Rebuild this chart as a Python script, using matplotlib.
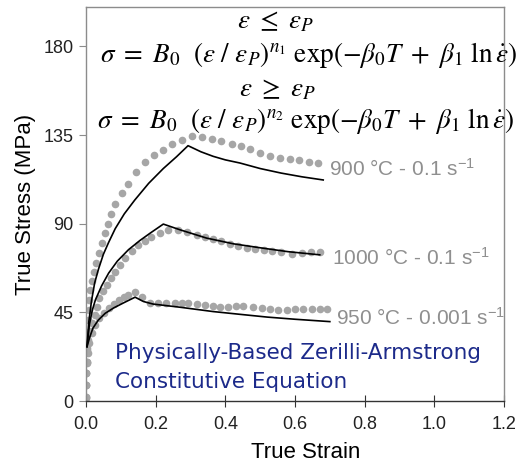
import matplotlib
matplotlib.use('Agg')
import matplotlib.pyplot as plt

plt.rcParams['font.family'] = ['Liberation Sans', 'DejaVu Sans']
plt.rcParams['mathtext.fontset'] = 'custom'
plt.rcParams['mathtext.rm'] = 'Liberation Sans'

# experimental points (gray dots)
exp_900_strain = [0.000, 0.000, 0.001, 0.002, 0.003, 0.005, 0.007, 0.008, 0.010, 0.012,
                  0.017, 0.022, 0.029, 0.036, 0.046, 0.054, 0.063, 0.073, 0.084, 0.102,
                  0.121, 0.145, 0.169, 0.195, 0.220, 0.246, 0.275, 0.303, 0.332, 0.361,
                  0.389, 0.418, 0.444, 0.471, 0.499, 0.528, 0.557, 0.585, 0.612, 0.641, 0.667]
exp_900_stress = [1.7, 8, 14, 20, 27, 34, 41, 46.3, 51.3, 56.4,
                  60.7, 65.7, 70, 75.1, 80.2, 85.2, 90, 95, 100.2, 105.6,
                  110.2, 116.1, 121.2, 125.1, 127.6, 130.5, 132.7, 134.4, 134.1, 133,
                  131.8, 130.7, 129.4, 128, 125.9, 124.2, 123.4, 122.9, 122.2, 121.5, 120.8]

exp_1000_strain = [0.000, 0.000, 0.001, 0.002, 0.004, 0.007, 0.011, 0.017, 0.025, 0.032,
                   0.038, 0.048, 0.060, 0.073, 0.084, 0.098, 0.113, 0.132, 0.150, 0.169,
                   0.188, 0.212, 0.236, 0.265, 0.289, 0.318, 0.341, 0.365, 0.389, 0.413,
                   0.437, 0.461, 0.485, 0.510, 0.535, 0.560, 0.590, 0.619, 0.645, 0.671]
exp_1000_stress = [2, 8, 14, 20, 26, 31, 35.5, 39.5, 43.7, 47.9,
                   52.2, 55.6, 59, 62.4, 65.7, 69.1, 72.5, 75.9, 79, 81,
                   83.5, 85.3, 86.9, 86.6, 85.6, 84.4, 83.2, 82.2, 81, 79.8,
                   78.8, 77.9, 77.1, 76.4, 76, 75.6, 74.8, 75.1, 75.4, 75.6]

exp_950_strain = [0.000, 0.000, 0.000, 0.003, 0.006, 0.010, 0.017, 0.025, 0.036, 0.051,
                  0.067, 0.079, 0.094, 0.108, 0.122, 0.141, 0.160, 0.184, 0.208, 0.231,
                  0.255, 0.275, 0.294, 0.318, 0.341, 0.365, 0.385, 0.408, 0.432, 0.451,
                  0.480, 0.504, 0.528, 0.552, 0.576, 0.600, 0.624, 0.648, 0.671, 0.693]
exp_950_stress = [1.9, 8.1, 14, 19.2, 24.2, 29.3, 34.4, 38.6, 42, 44.6,
                  47.1, 49.3, 51.3, 52.7, 53.9, 55.1, 53, 49.7, 49.7, 50,
                  49.7, 49.7, 49.7, 49.2, 48.5, 48, 47.6, 47.6, 48, 48.2,
                  47.6, 47.1, 46.6, 46.3, 46.3, 46.6, 46.8, 46.8, 46.6, 46.6]

# model predictions (black lines)
mod_900_strain = [0.003, 0.008, 0.016, 0.025, 0.036, 0.050, 0.065, 0.084, 0.110, 0.140,
                  0.180, 0.222, 0.260, 0.293, 0.330, 0.365, 0.400, 0.442, 0.500, 0.560,
                  0.620, 0.681]
mod_900_stress = [27.6, 40, 51, 60, 67, 74.5, 80.5, 87.5, 95, 102,
                  110.5, 118, 124, 129.6, 126.5, 124.2, 122.4, 120.8, 118, 115.7,
                  113.8, 112.2]

mod_1000_strain = [0.003, 0.010, 0.018, 0.027, 0.045, 0.065, 0.090, 0.122, 0.155, 0.185,
                   0.222, 0.270, 0.346, 0.423, 0.499, 0.580, 0.671]
mod_1000_stress = [27.6, 39, 46, 51.3, 58.5, 64.9, 71, 76.8, 81.5, 85.3,
                   89.8, 86.9, 82.7, 79.8, 77.8, 75.8, 74.2]

mod_950_strain = [0.003, 0.010, 0.020, 0.035, 0.055, 0.080, 0.110, 0.141, 0.165, 0.193,
                  0.270, 0.365, 0.442, 0.520, 0.600, 0.700]
mod_950_stress = [27.6, 32, 37, 41, 44.5, 47.3, 50, 52.7, 50.5, 49.2,
                  47.6, 45.4, 44, 42.6, 41.5, 40.3]

labels = ['900 °C - 0.1 s$\\mathregular{^{-1}}$',
          '1000 °C - 0.1 s$\\mathregular{^{-1}}$',
          '950 °C - 0.001 s$\\mathregular{^{-1}}$']
label_x = [0.697, 0.705, 0.719]
label_y = [114.4, 69.1, 38.6]

dot_color = '#a6a6a6'
frame_color = '#8c8c8c'

fig = plt.figure(figsize=(5.23, 4.72), dpi=100)
ax = fig.add_axes([0.1644, 0.1504, 0.7993, 0.8348])

for xs, ys in [(exp_900_strain, exp_900_stress), (exp_1000_strain, exp_1000_stress),
               (exp_950_strain, exp_950_stress)]:
    ax.plot(xs, ys, 'o', color=dot_color, ms=5.5, mec='none', zorder=2)

for xs, ys in [(mod_900_strain, mod_900_stress), (mod_1000_strain, mod_1000_stress),
               (mod_950_strain, mod_950_stress)]:
    ax.plot(xs, ys, '-', color='black', lw=1.2, zorder=3)

for lab, lx, ly in zip(labels, label_x, label_y):
    ax.text(lx, ly, lab, color='#8f8f8f', fontsize=15, ha='left', va='baseline',
            math_fontfamily='custom')

# constitutive equations
eq1 = (r'$\sigma\ =\ B_0\ \ (\varepsilon\ /\ \varepsilon_P)^{n_1}\ \mathrm{exp}'
       r'(-\beta_0 T\ +\ \beta_1\ \mathrm{ln}\,\dot{\varepsilon})$')
eq2 = (r'$\sigma\ =\ B_0\ \ (\varepsilon\ /\ \varepsilon_P)^{n_2}\ \mathrm{exp}'
       r'(-\beta_0 T\ +\ \beta_1\ \mathrm{ln}\,\dot{\varepsilon})$')
ax.text(0.545, 189.1, r'$\varepsilon\ \leq\ \varepsilon_P$', fontsize=19.5, ha='center',
        va='baseline', math_fontfamily='stix')
ax.text(0.04, 172.3, eq1, fontsize=19.5, ha='left', va='baseline', math_fontfamily='stix')
ax.text(0.551, 154.5, r'$\varepsilon\ \geq\ \varepsilon_P$', fontsize=19.5, ha='center',
        va='baseline', math_fontfamily='stix')
ax.text(0.032, 138.8, eq2, fontsize=19.5, ha='left', va='baseline', math_fontfamily='stix')

ax.text(0.083, 21.4, 'Physically-Based Zerilli-Armstrong', color='#1c2a8a',
        fontsize=15.5, family='DejaVu Sans', va='baseline')
ax.text(0.083, 6.6, 'Constitutive Equation', color='#1c2a8a',
        fontsize=15.5, family='DejaVu Sans', va='baseline')

ax.set_xlim(0, 1.2)
ax.set_ylim(0, 200)
ax.set_xticks([0.0, 0.2, 0.4, 0.6, 0.8, 1.0, 1.2])
ax.set_xticklabels(['0.0', '0.2', '0.4', '0.6', '0.8', '1.0', '1.2'])
ax.set_yticks([0, 45, 90, 135, 180])

for side in ['left', 'top', 'right']:
    ax.spines[side].set_color(frame_color)
ax.spines['bottom'].set_color('#333333')
for s in ax.spines.values():
    s.set_linewidth(1.0)

ax.tick_params(axis='x', direction='inout', length=8, color='#333333',
               labelsize=13, pad=7, labelcolor='#222222')
ax.tick_params(axis='y', direction='out', length=5, color=frame_color,
               labelsize=13, pad=4, labelcolor='#222222')

ax.set_xlabel('True Strain', fontsize=16)
ax.xaxis.set_label_coords(0.526, -0.105)
ax.set_ylabel('True Stress (MPa)', fontsize=16, labelpad=5)

fig.savefig('out.png', dpi=100)
